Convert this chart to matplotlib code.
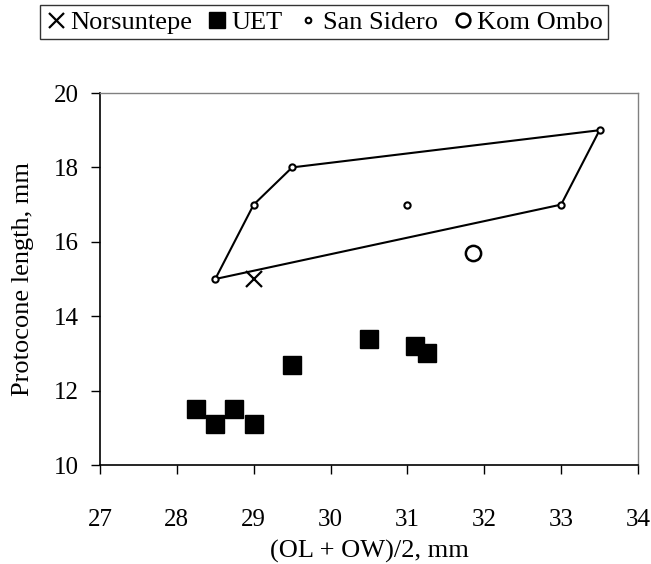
import matplotlib
matplotlib.use("Agg")
from matplotlib import pyplot as plt

plt.rcParams["font.family"] = ["Liberation Serif", "DejaVu Serif"]

# Norsuntepe
nors_x = [29.0]
nors_y = [15.0]

# UET
uet_x = [28.25, 28.5, 28.75, 29.0, 29.5, 30.5, 31.1, 31.25]
uet_y = [11.5, 11.1, 11.5, 11.1, 12.7, 13.4, 13.2, 13.0]

# San Sidero
ss_x = [28.5, 29.0, 29.5, 31.0, 33.0, 33.5]
ss_y = [15.0, 17.0, 18.0, 17.0, 17.0, 19.0]

# hull drawn round San Sidero
hull_x = [28.5, 29.0, 29.5, 33.5, 33.0, 28.5]
hull_y = [15.0, 17.0, 18.0, 19.0, 17.0, 15.0]

# Kom Ombo
ko_x = [31.85]
ko_y = [15.7]

fig = plt.figure(figsize=(6.51, 5.64), dpi=100)
ax = fig.add_axes([0.1536, 0.1755, 0.8264, 0.6596])

ax.plot(hull_x, hull_y, color="black", lw=1.5, zorder=1)
h1, = ax.plot(nors_x, nors_y, ls="none", marker="x", ms=12, mew=1.6, color="black")
h2, = ax.plot(uet_x, uet_y, ls="none", marker="s", ms=13.5, color="black")
h3, = ax.plot(ss_x, ss_y, ls="none", marker="o", ms=4.5, mew=1.5,
              mfc="white", mec="black", zorder=3)
h4, = ax.plot(ko_x, ko_y, ls="none", marker="o", ms=11, mew=1.8,
              mfc="white", mec="black")

ax.set_xlim(27, 34)
ax.set_ylim(10, 20)
ax.set_xticks(range(27, 35))
ax.set_yticks(range(10, 21, 2))
for side in ["top", "right"]:
    ax.spines[side].set_color("#808080")
    ax.spines[side].set_linewidth(1.0)
for side in ["left", "bottom"]:
    ax.spines[side].set_linewidth(1.2)
ax.tick_params(labelsize=18, length=6.5, width=1, direction="out")
ax.tick_params(axis="x", pad=25)
ax.tick_params(axis="y", pad=9)
ax.set_xlabel("(OL + OW)/2, mm", fontsize=19)
ax.set_ylabel("Protocone length, mm", fontsize=19)
ax.xaxis.set_label_coords(0.5, -0.2)
ax.yaxis.set_label_coords(-0.122, 0.5)

leg = fig.legend([h1, h2, h3, h4], ["Norsuntepe", "UET", "San Sidero", "Kom Ombo"],
                 loc="upper center", bbox_to_anchor=(0.498, 0.991), ncol=4,
                 fontsize=19, frameon=True, fancybox=False, edgecolor="black",
                 handlelength=0.8, handletextpad=0.15, columnspacing=0.55,
                 borderpad=0.2, borderaxespad=0, markerscale=0.9)
leg.get_frame().set_linewidth(1.0)

plt.savefig("out.png", dpi=100)
plt.close()
